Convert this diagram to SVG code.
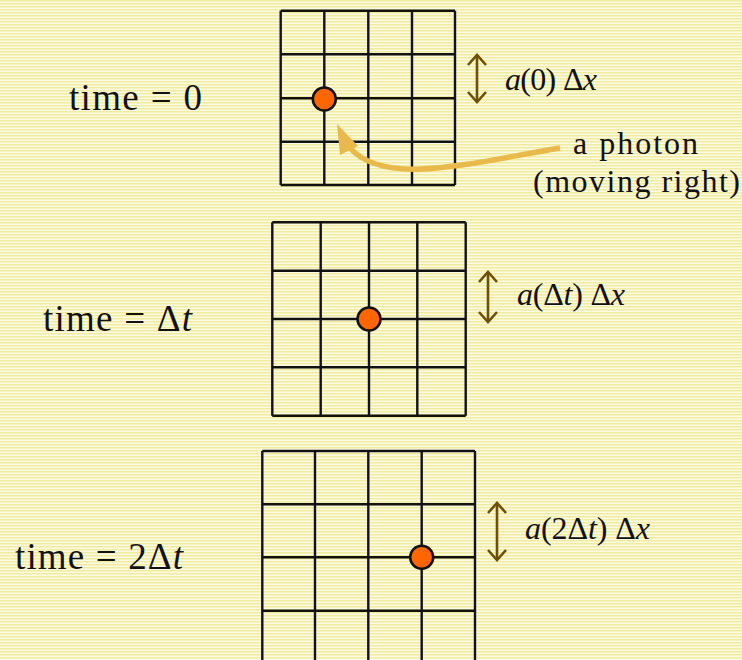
<svg xmlns="http://www.w3.org/2000/svg" width="742" height="660" viewBox="0 0 742 660">
<defs>
<pattern id="paper" width="8" height="3" patternUnits="userSpaceOnUse">
<rect width="8" height="3" fill="#fbfae8"/>
<rect y="0" width="8" height="1.5" fill="#f1ec9a"/>
</pattern>
<marker id="chev" viewBox="0 0 20 20" refX="16" refY="10" markerWidth="20" markerHeight="20" markerUnits="userSpaceOnUse" orient="auto-start-reverse">
<path d="M6,1 L16,10 L6,19" fill="none" stroke="#6e4f06" stroke-width="2.6"/>
</marker>
<style>
.grid{fill:none;stroke:#111;stroke-width:2.4}
.dot{fill:#ff6600;stroke:#111;stroke-width:2.5}
.lbl{font-family:"Liberation Serif",serif;font-size:37px;fill:#111}
.sm{font-family:"Liberation Serif",serif;font-size:32px;fill:#111}
.it{font-style:italic}
.dbl{stroke:#6e4f06;stroke-width:2.6;fill:none;marker-start:url(#chev);marker-end:url(#chev)}
</style>
</defs>
<rect width="742" height="660" fill="url(#paper)"/>

<g id="frame0">
<path class="grid" d="M280.7,10.7H455M280.7,54.3H455M280.7,98.3H455M280.7,141.7H455M280.7,185H455M280.7,10.7V185M324.3,10.7V185M368.3,10.7V185M412,10.7V185M455,10.7V185"/>
<circle class="dot" cx="324.3" cy="99" r="11.5"/>
<text class="lbl" x="69" y="110" textLength="133">time = 0</text>
</g>

<g id="frame1">
<path class="grid" d="M272.3,222.3H465.7M272.3,270.7H465.7M272.3,319H465.7M272.3,367.3H465.7M272.3,415.7H465.7M272.3,222.3V415.7M320.7,222.3V415.7M369,222.3V415.7M417.3,222.3V415.7M465.7,222.3V415.7"/>
<circle class="dot" cx="369" cy="319" r="11.5"/>
<text class="lbl" x="43" y="331" textLength="149">time = Δ<tspan class="it">t</tspan></text>
</g>

<g id="frame2">
<path class="grid" d="M262.3,451H475M262.3,504.3H475M262.3,557.3H475M262.3,610.7H475M262.3,451V664M315,451V664M368.3,451V664M421.7,451V664M475,451V664"/>
<circle class="dot" cx="421.7" cy="557.3" r="11.5"/>
<text class="lbl" x="15" y="569" textLength="168">time = 2Δ<tspan class="it">t</tspan></text>
</g>

<g id="scale0">
<text class="sm" x="505" y="90" textLength="92"><tspan class="it">a</tspan>(0) Δ<tspan class="it">x</tspan></text>
</g>
<g id="scale1">
<text class="sm" x="517" y="305" textLength="108"><tspan class="it">a</tspan>(Δ<tspan class="it">t</tspan>) Δ<tspan class="it">x</tspan></text>
</g>
<g id="scale2">
<text class="sm" x="525" y="539" textLength="125"><tspan class="it">a</tspan>(2Δ<tspan class="it">t</tspan>) Δ<tspan class="it">x</tspan></text>
</g>

<g id="photon-label">
<text class="sm" x="573" y="154" textLength="125">a photon</text>
<text class="sm" x="533" y="192" textLength="207">(moving right)</text>
</g>

<g id="connectors">
<line class="dbl" x1="477" y1="55" x2="477" y2="102"/>
<line class="dbl" x1="488" y1="272" x2="488" y2="322"/>
<line class="dbl" x1="497" y1="503" x2="497" y2="560"/>
<path d="M560,148 C470,163 385,187 350,148" fill="none" stroke="#e9b94c" stroke-width="5.5"/>
<polygon points="337,124 340,155 358,146" fill="#e9b94c"/>
</g>
</svg>
